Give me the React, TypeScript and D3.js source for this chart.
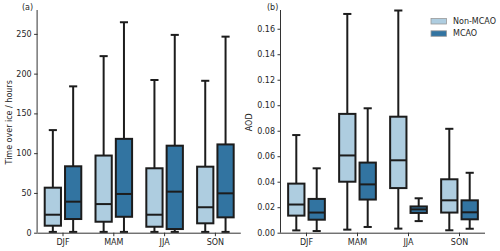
import { useEffect, useRef } from "react";
import * as d3 from "d3";

const seasons = ["DJF", "MAM", "JJA", "SON"];
const groups = ["Non-MCAO", "MCAO"];
const colors = ["#aecde0", "#3274a1"];

// [low whisker, q1, median, q3, high whisker] per season
const timeNonMcao = [
  [1, 8.8, 22.6, 56.6, 129],
  [1, 13.8, 36, 97, 222],
  [1, 7.5, 22.6, 81, 192],
  [1, 11.8, 32, 83, 191],
];
const timeMcao = [
  [1, 17.2, 39, 83.5, 184],
  [1, 20, 48.7, 118, 264.6],
  [1, 4.6, 51.6, 109.4, 248.7],
  [1, 19.3, 49.5, 111, 246.5],
];
const aodNonMcao = [
  [0.0018, 0.0134, 0.0221, 0.0385, 0.0766],
  [0.0024, 0.04, 0.0606, 0.0932, 0.1716],
  [0.0032, 0.035, 0.0568, 0.091, 0.1743],
  [0.0019, 0.0158, 0.0254, 0.0419, 0.0815],
];
const aodMcao = [
  [0.0013, 0.0102, 0.0158, 0.0265, 0.0505],
  [0.0045, 0.026, 0.0379, 0.055, 0.0976],
  [0.0091, 0.0155, 0.0183, 0.0206, 0.027],
  [0.0031, 0.0105, 0.016, 0.0254, 0.047],
];
const timeTicks = [0, 50, 100, 150, 200, 250];
const aodTicks = [0, 0.02, 0.04, 0.06, 0.08, 0.1, 0.12, 0.14, 0.16];

export default function App() {
  const svgRef = useRef<SVGSVGElement>(null);

  useEffect(() => {
    if (!svgRef.current) return;
    const svg = d3.select(svgRef.current);
    svg.selectAll("*").remove();

    const font = "DejaVu Sans, sans-serif";
    const fontSize = 8;
    const textColor = "#262626";
    const top = 10;
    const bottom = 232.7;

    const drawPanel = (
      x0: number,
      x1: number,
      domainMax: number,
      ticks: number[],
      fmt: (d: number) => string,
      data: number[][][],
      panelLabel: string,
      labelX: number,
      yLabel: string,
      yLabelX: number
    ) => {
      const x = d3.scaleBand().domain(seasons).range([x0, x1]);
      const xSub = d3
        .scaleBand()
        .domain(groups)
        .range([x.bandwidth() * 0.1, x.bandwidth() * 0.9]);
      const y = d3.scaleLinear().domain([0, domainMax]).range([bottom, top]);
      const boxW = xSub.bandwidth() * 0.8;
      const g = svg.append("g");

      groups.forEach((grp, gi) => {
        seasons.forEach((s, si) => {
          const [lo, q1, med, q3, hi] = data[gi][si];
          const cx = x(s)! + xSub(grp)! + xSub.bandwidth() / 2;
          const stroke = "#1c1c1c";
          // whiskers
          g.append("line")
            .attr("x1", cx).attr("x2", cx)
            .attr("y1", y(hi)).attr("y2", y(q3))
            .attr("stroke", stroke).attr("stroke-width", 2);
          g.append("line")
            .attr("x1", cx).attr("x2", cx)
            .attr("y1", y(q1)).attr("y2", y(lo))
            .attr("stroke", stroke).attr("stroke-width", 2);
          [hi, lo].forEach((v) => {
            g.append("line")
              .attr("x1", cx - boxW / 4).attr("x2", cx + boxW / 4)
              .attr("y1", y(v)).attr("y2", y(v))
              .attr("stroke", stroke).attr("stroke-width", 2);
          });
          g.append("rect")
            .attr("x", cx - boxW / 2)
            .attr("y", y(q3))
            .attr("width", boxW)
            .attr("height", y(q1) - y(q3))
            .attr("fill", colors[gi])
            .attr("stroke", stroke)
            .attr("stroke-width", 2);
          g.append("line")
            .attr("x1", cx - boxW / 2).attr("x2", cx + boxW / 2)
            .attr("y1", y(med)).attr("y2", y(med))
            .attr("stroke", stroke).attr("stroke-width", 2);
        });
      });

      // axes
      const yAxis = g.append("g")
        .attr("transform", `translate(${x0},0)`)
        .call(d3.axisLeft(y).tickValues(ticks).tickFormat((d) => fmt(d as number)).tickSize(3.5).tickPadding(2.5));
      yAxis.select(".domain").attr("d", `M-0.5,${top}V${bottom}`).attr("stroke", "#333").attr("stroke-width", 1);
      const xAxis = g.append("g")
        .attr("transform", `translate(0,${bottom})`)
        .call(d3.axisBottom(x).tickSize(3.5).tickPadding(3));
      xAxis.select(".domain").attr("d", `M${x0},0.5H${x1}`).attr("stroke", "#333").attr("stroke-width", 1);
      [yAxis, xAxis].forEach((a) => {
        a.selectAll(".tick line").attr("stroke", "#333");
        a.selectAll("text").attr("font-family", font).attr("font-size", fontSize).attr("fill", textColor);
      });

      g.append("text")
        .attr("x", labelX).attr("y", 10)
        .attr("font-family", font).attr("font-size", fontSize)
        .attr("fill", textColor)
        .text(panelLabel);

      g.append("text")
        .attr("transform", `translate(${yLabelX},${(top + bottom) / 2 + 1}) rotate(-90)`)
        .attr("text-anchor", "middle")
        .attr("dominant-baseline", "central")
        .attr("font-family", font).attr("font-size", fontSize)
        .attr("fill", textColor)
        .text(yLabel);
    };

    drawPanel(37.6, 240.8, 280, timeTicks, (d) => `${d}`,
      [timeNonMcao, timeMcao], "(a)", 22, "Time over ice / hours", 9);
    drawPanel(281, 485, 0.1747, aodTicks, (d) => d.toFixed(2),
      [aodNonMcao, aodMcao], "(b)", 267, "AOD", 249);

    // Legend
    const legend = svg.append("g").attr("transform", "translate(431,18.5)");
    groups.forEach((grp, i) => {
      legend.append("rect")
        .attr("x", 0).attr("y", i * 12.3)
        .attr("width", 15.5).attr("height", 5.5)
        .attr("fill", colors[i])
        .attr("stroke", "#9a9a9a")
        .attr("stroke-width", 0.8);
      legend.append("text")
        .attr("x", 22).attr("y", i * 12.3 + 2.8)
        .attr("dominant-baseline", "central")
        .attr("font-family", font).attr("font-size", fontSize)
        .attr("fill", textColor)
        .text(grp);
    });
  }, []);

  return (
    <svg
      ref={svgRef}
      width={500}
      height={251}
      style={{ position: "fixed", left: 0, top: 0, background: "#fff" }}
    />
  );
}
